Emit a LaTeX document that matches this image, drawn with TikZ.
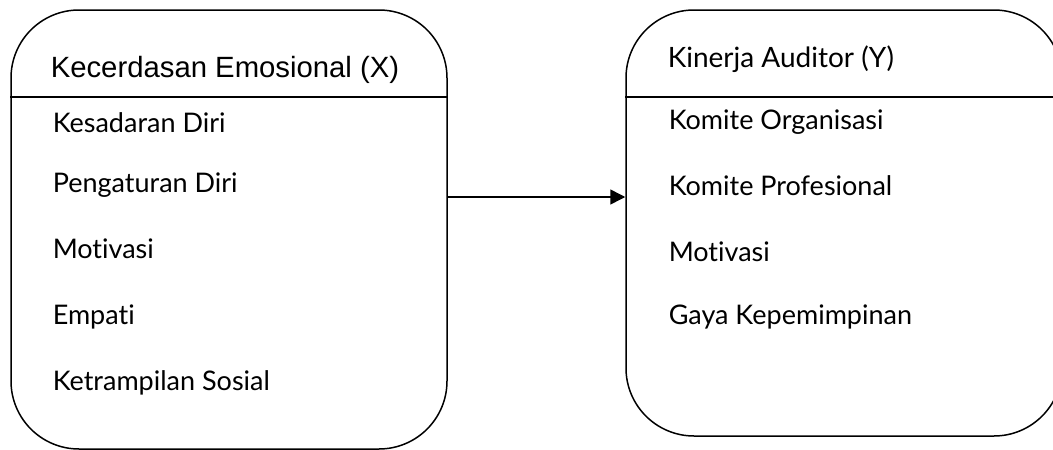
\documentclass[tikz,border=0pt]{standalone}
\usepackage{fontspec}
\setmainfont[Ligatures=NoCommon]{Lato}
\newfontfamily\arialfont{Liberation Sans}
\usetikzlibrary{arrows.meta}

\begin{document}
\begin{tikzpicture}[x=1pt,y=-1pt,line width=1.5pt,
  box/.style={draw,rounded corners=68pt,inner sep=0pt,minimum width=436pt},
  item/.style={anchor=base west,inner sep=0pt,font=\fontsize{27}{31}\selectfont},
  head/.style={anchor=base west,inner sep=0pt}]

\useasboundingbox (0,0) rectangle (1053,450);
\clip (0,0) rectangle (1053,450);

% ---- the two variable boxes ----
\node[box,minimum height=439pt] (lbox) at (229,229.5) {};
\node[box,minimum height=426pt] (rbox) at (844,223) {};

% ---- header rules ----
\coordinate (hl) at (0,97);
\draw (lbox.west |- hl) -- (lbox.east |- hl);
\draw (rbox.west |- hl) -- (rbox.east |- hl);

% ---- titles ----
\node[head,font=\arialfont\fontsize{29.3}{34}\selectfont] (tx) at (50,77) {Kecerdasan Emosional (X)};
\node[head,font=\fontsize{28}{32}\selectfont] (ty) at (667,67) {Kinerja Auditor (Y)};

% ---- indicators of X ----
\node[item] (x1) at (52,132) {Kesadaran Diri};
\node[item] (x2) at (52,192) {Pengaturan Diri};
\node[item] (x3) at (52,258) {Motivasi};
\node[item] (x4) at (52,324) {Empati};
\node[item] (x5) at (52,390) {Ketrampilan Sosial};

% ---- indicators of Y ----
\node[item] (y1) at (668,129) {Komite Organisasi};
\node[item] (y2) at (668,195) {Komite Profesional};
\node[item] (y3) at (668,261) {Motivasi};
\node[item] (y4) at (668,324) {Gaya Kepemimpinan};

% ---- X influences Y ----
\coordinate (ay) at (0,197);
\draw[-{Triangle[length=15pt,width=15pt]}] (lbox.east |- ay) -- (rbox.west |- ay);

\end{tikzpicture}
\end{document}
